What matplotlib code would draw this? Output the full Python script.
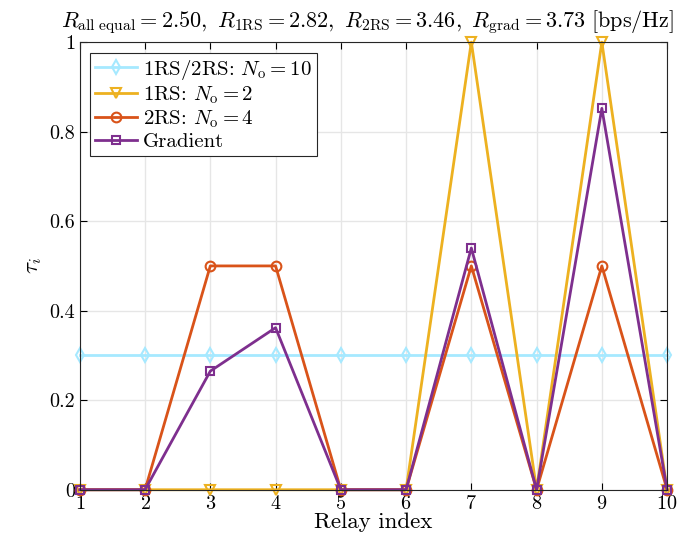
import matplotlib
matplotlib.use("Agg")
import matplotlib.pyplot as plt
import numpy as np

relay_index = np.arange(1, 11)
tau_equal = [0.3, 0.3, 0.3, 0.3, 0.3, 0.3, 0.3, 0.3, 0.3, 0.3]
tau_1rs = [0, 0, 0, 0, 0, 0, 1, 0, 1, 0]
tau_2rs = [0, 0, 0.5, 0.5, 0, 0, 0.5, 0, 0.5, 0]
tau_grad = [0, 0, 0.265, 0.362, 0, 0, 0.54, 0, 0.852, 0]

plt.rcParams["font.family"] = "serif"
plt.rcParams["font.serif"] = ["cmr10"]
plt.rcParams["mathtext.fontset"] = "cm"
plt.rcParams["axes.unicode_minus"] = False
plt.rcParams["axes.formatter.use_mathtext"] = True

fig = plt.figure(figsize=(7, 5.54), dpi=100)
ax = fig.add_axes([0.114, 0.116, 0.839, 0.808])

style = dict(lw=2, mfc="none", mew=1.5, clip_on=False)
ax.plot(relay_index, tau_equal, color="#a6e9ff", marker="d", ms=7,
        label=r"1RS/2RS: $N_\mathrm{o}=10$", **style)
ax.plot(relay_index, tau_1rs, color="#EDB120", marker="v", ms=7,
        label=r"1RS: $N_\mathrm{o}=2$", **style)
ax.plot(relay_index, tau_2rs, color="#D95319", marker="o", ms=7,
        label=r"2RS: $N_\mathrm{o}=4$", **style)
ax.plot(relay_index, tau_grad, color="#7E2F8E", marker="s", ms=6,
        label="Gradient", **style)

ax.set_xlim(1, 10)
ax.set_ylim(0, 1)
ax.set_xticks(relay_index)
ax.set_yticks([0, 0.2, 0.4, 0.6, 0.8, 1])
ax.set_yticklabels(["0", "0.2", "0.4", "0.6", "0.8", "1"])
ax.tick_params(direction="in", top=True, right=True, labelsize=14.5, length=5)
ax.grid(True, color="#e6e6e6", lw=1)
ax.set_axisbelow(True)
for s in ax.spines.values():
    s.set_color("#262626")
    s.set_linewidth(0.8)

ax.set_xlabel("Relay index", fontsize=16.5, labelpad=0)
ax.set_ylabel(r"$\tau_i$", fontsize=16.5)
ax.set_title(r"$R_\mathrm{all\ equal}=2.50,\ R_\mathrm{1RS}=2.82,\ R_\mathrm{2RS}=3.46,\ R_\mathrm{grad}=3.73\ [\mathrm{bps/Hz}]$",
             fontsize=16, pad=11, x=0.49)

leg = ax.legend(loc="upper left", fontsize=15, fancybox=False, framealpha=1,
                edgecolor="#262626", handlelength=2.0, borderpad=0.25,
                labelspacing=0.12, handletextpad=0.3, borderaxespad=0.5)
leg.get_frame().set_linewidth(0.8)

fig.savefig("out.png", dpi=100)
